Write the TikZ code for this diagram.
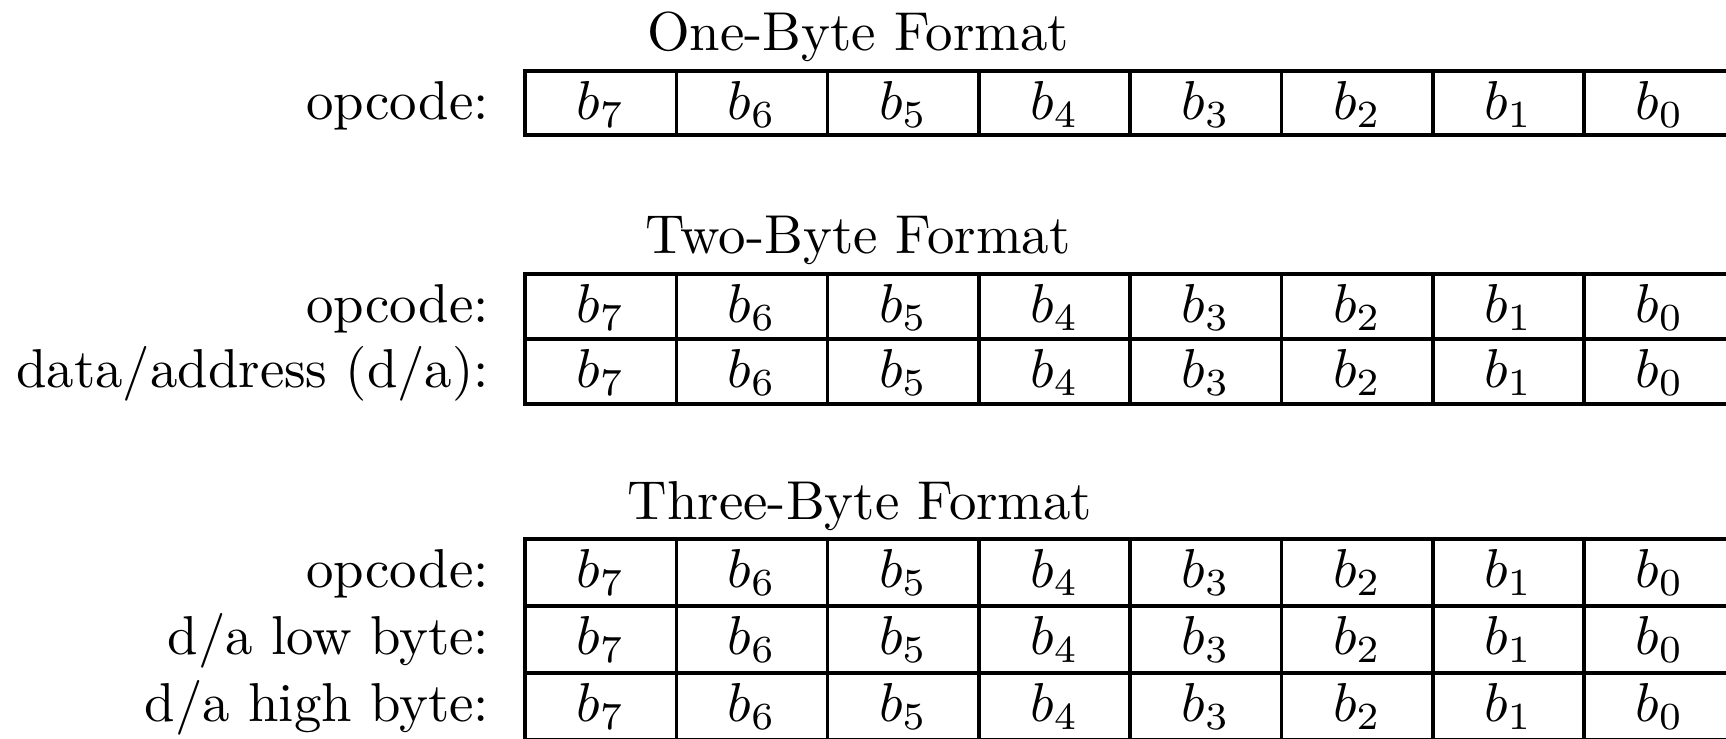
\documentclass[tikz,border=0pt]{standalone}
\newcommand\byterow[4]{%
  \node[lbl] (#1-lbl) at (490,#2+48) {#4};
  \foreach \i in {0,...,7} {
    \pgfmathtruncatemacro\bit{7-\i}
    \node[cell] (#1-b\bit) at ({525+(\i+0.5)*151.3},#2+48) {$b_{\bit}$};
  }
  \draw[gridline] (525,#2) rectangle (1735,#3);
  \foreach \i in {1,...,7} \draw[gridline] ({525+\i*151.3},#2) -- ({525+\i*151.3},#3);
}
\begin{document}
\begin{tikzpicture}[x=0.1825pt,y=-0.1825pt,
  gridline/.style={line width=0.65pt},
  cell/.style={anchor=base, inner sep=0pt},
  lbl/.style={anchor=base east, inner sep=0pt},
  ttl/.style={anchor=base, inner sep=0pt}]
\clip (0,0) rectangle (1726,738);
% One-byte
\node[ttl] (t1) at (858,50) {One-Byte Format};
\byterow{one-op}{71}{135}{opcode:}
% Two-byte
\node[ttl] (t2) at (858,253) {Two-Byte Format};
\byterow{two-op}{274}{339}{opcode:}
\byterow{two-da}{339}{404}{data/address (d/a):}
% Three-byte
\node[ttl] (t3) at (860,519) {Three-Byte Format};
\byterow{three-op}{539}{606}{opcode:}
\byterow{three-lo}{606}{673}{d/a low byte:}
\byterow{three-hi}{673}{740}{d/a high byte:}
\end{tikzpicture}
\end{document}
